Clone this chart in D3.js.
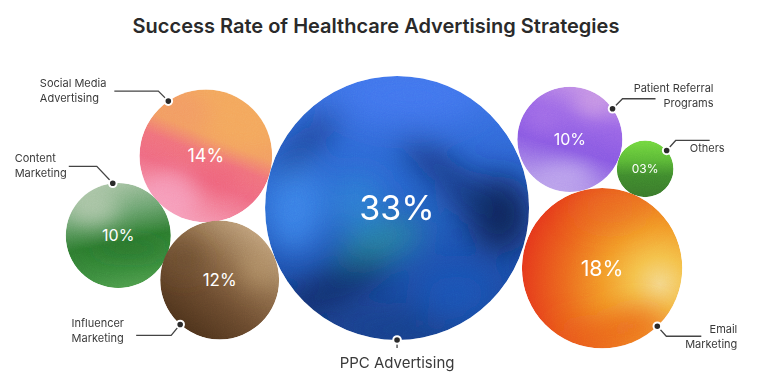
<!DOCTYPE html>
<html>
<head>
<meta charset="utf-8">
<script src="https://cdn.jsdelivr.net/npm/d3@7"></script>
<style>
  html, body { margin: 0; padding: 0; background: #fff; }
  svg { display: block; font-family: Inter, "Noto Sans", sans-serif; }
</style>
</head>
<body>
<div id="vis"></div>
<script>
const width = 768,
  height = 383;

// data
const categories = [
  "Social Media Advertising",
  "Content Marketing",
  "Influencer Marketing",
  "PPC Advertising",
  "Patient Referral Programs",
  "Others",
  "Email Marketing",
];
const values = [14, 10, 12, 33, 10, 3, 18];
const valueLabels = ["14%", "10%", "12%", "33%", "10%", "03%", "18%"];
const labelLines = [
  ["Social Media", "Advertising"],
  ["Content", "Marketing"],
  ["Influencer", "Marketing"],
  ["PPC Advertising"],
  ["Patient Referral", "Programs"],
  ["Others"],
  ["Email", "Marketing"],
];

// layout: bubble anchors (fraction of the canvas) and leader lines
const layout = [
  { fx: 0.268, fy: 0.407, angle: 235.6, ex: -10, ey: -10, run: -44, side: "left", gap: 8, by: -4 },
  { fx: 0.154, fy: 0.615, angle: 264, ex: -16, ey: -17, run: -28, side: "left", gap: 2, by: -4 },
  { fx: 0.286, fy: 0.731, angle: 131.6, ex: -9, ey: 11, run: -35, side: "left", gap: 12, by: -8 },
  { fx: 0.517, fy: 0.543, angle: 90, ex: 0, ey: 8, run: 0, side: "below", gap: 0, by: 20 },
  { fx: 0.742, fy: 0.364, angle: -35.7, ex: 10, ey: -10, run: 33, side: "right", gap: 58, by: -7 },
  { fx: 0.84, fy: 0.441, angle: -40.6, ex: 9, ey: -10, run: 34, side: "right", gap: 15, by: 12 },
  { fx: 0.784, fy: 0.7, angle: 46.5, ex: 9, ey: 10, run: 35, side: "right", gap: 36, by: -3 },
];

// fills: base gradient + soft blobs (x, y, rx, ry in radius units)
const fills = [
  {
    type: "linear", x1: 0.7, y1: 0, x2: 0.3, y2: 1, blur: 0.14,
    stops: [[0, "#f3a95c"], [0.36, "#f29d62"], [0.5, "#f0717c"], [0.66, "#ef6a82"], [1, "#f6a0ba"]],
    blobs: [
      { x: 0.45, y: -0.5, rx: 0.65, ry: 0.38, rot: 20, c: "#f3a85d", o: 0.95 },
      { x: -0.35, y: -0.75, rx: 0.5, ry: 0.2, rot: 25, c: "#f29a64", o: 0.8 },
      { x: -0.55, y: 0.6, rx: 0.45, ry: 0.35, rot: 0, c: "#f7a3c2", o: 0.7 },
      { x: 0.1, y: 0.35, rx: 0.4, ry: 0.2, rot: 0, c: "#ee5f78", o: 0.6 },
    ],
  },
  {
    type: "linear", x1: 0.3, y1: 0, x2: 0.5, y2: 1, blur: 0.18,
    stops: [[0, "#adc6a9"], [0.3, "#6ea572"], [0.58, "#2d7b2f"], [0.85, "#3c8d3e"], [1, "#4c9b4a"]],
    blobs: [
      { x: -0.5, y: -0.55, rx: 0.5, ry: 0.35, rot: 0, c: "#b3c9ae", o: 0.8 },
      { x: 0.2, y: 0.25, rx: 0.7, ry: 0.15, rot: 0, c: "#23702a", o: 0.7 },
    ],
  },
  {
    type: "linear", x1: 0.85, y1: 0.1, x2: 0.2, y2: 0.95, blur: 0.18,
    stops: [[0, "#c3a47e"], [0.35, "#8d6b49"], [0.65, "#6a4a2e"], [1, "#4a3019"]],
    blobs: [
      { x: -0.6, y: -0.35, rx: 0.35, ry: 0.3, rot: 0, c: "#6a4b30", o: 0.7 },
      { x: 0.65, y: -0.2, rx: 0.3, ry: 0.35, rot: 0, c: "#b8956b", o: 0.6 },
    ],
  },
  {
    type: "linear", x1: 0.5, y1: 0, x2: 0.5, y2: 1, blur: 0.12,
    stops: [[0, "#3e74e8"], [0.4, "#2a64d0"], [0.7, "#1d4fae"], [1, "#1a428f"]],
    blobs: [
      { x: 0.1, y: -0.85, rx: 0.55, ry: 0.2, rot: 0, c: "#4277ef", o: 0.9 },
      { x: -0.78, y: 0.0, rx: 0.22, ry: 0.35, rot: 0, c: "#3f87ec", o: 0.9 },
      { x: -0.7, y: -0.48, rx: 0.36, ry: 0.09, rot: -45, c: "#12337a", o: 0.85 },
      { x: 0.32, y: -0.3, rx: 0.34, ry: 0.1, rot: 35, c: "#132f6e", o: 0.9 },
      { x: 0.78, y: 0.05, rx: 0.25, ry: 0.3, rot: 0, c: "#0c2352", o: 0.95 },
      { x: 0.55, y: -0.05, rx: 0.2, ry: 0.1, rot: 30, c: "#15316e", o: 0.9 },
      { x: -0.12, y: 0.25, rx: 0.34, ry: 0.14, rot: -20, c: "#2b929c", o: 0.8 },
      { x: -0.3, y: -0.05, rx: 0.2, ry: 0.2, rot: 0, c: "#2f8ad8", o: 0.8 },
      { x: -0.5, y: 0.62, rx: 0.5, ry: 0.14, rot: -28, c: "#0e2b66", o: 0.95 },
      { x: 0.45, y: 0.65, rx: 0.3, ry: 0.22, rot: 0, c: "#1c56ba", o: 0.8 },
      { x: 0.0, y: 0.92, rx: 0.45, ry: 0.12, rot: 0, c: "#183f8a", o: 0.8 },
    ],
  },
  {
    type: "linear", x1: 0.7, y1: 0, x2: 0.4, y2: 1, blur: 0.18,
    stops: [[0, "#c391e6"], [0.3, "#9a66e6"], [0.6, "#8858e2"], [1, "#b89fe9"]],
    blobs: [
      { x: 0.45, y: -0.7, rx: 0.35, ry: 0.25, rot: 0, c: "#cf9fe4", o: 0.8 },
      { x: -0.5, y: -0.4, rx: 0.35, ry: 0.3, rot: 0, c: "#a873e8", o: 0.6 },
      { x: -0.1, y: 0.7, rx: 0.55, ry: 0.25, rot: 0, c: "#c0a8ee", o: 0.85 },
    ],
  },
  {
    type: "linear", x1: 0.5, y1: 0, x2: 0.5, y2: 1, blur: 0.18,
    stops: [[0, "#74d93f"], [0.35, "#5bb836"], [0.62, "#3f8a2d"], [1, "#3a782b"]],
    blobs: [],
  },
  {
    type: "radial", cx: 0.86, cy: 0.6, r: 0.95, blur: 0.18,
    stops: [[0, "#f4d88a"], [0.18, "#f4c14a"], [0.38, "#f29a28"], [0.62, "#ec6a1e"], [1, "#e3281a"]],
    blobs: [
      { x: 0.45, y: 0.7, rx: 0.4, ry: 0.2, rot: 0, c: "#ea5a1c", o: 0.8 },
      { x: -0.1, y: 0.85, rx: 0.5, ry: 0.15, rot: 0, c: "#e8561b", o: 0.8 },
      { x: 0.1, y: -0.75, rx: 0.45, ry: 0.2, rot: 0, c: "#ea6c2a", o: 0.6 },
    ],
  },
];

const data = categories.map((c, i) => ({
  name: c,
  value: values[i],
  text: valueLabels[i],
  lines: labelLines[i],
  ...layout[i],
  fill: fills[i],
  i,
}));

// scales
const x = d3.scaleLinear().domain([0, 1]).range([0, width]);
const y = d3.scaleLinear().domain([0, 1]).range([0, height]);
const r = d3.scaleLinear().domain([0, 33]).range([18, 132]);
const fontSize = d3.scaleLinear().domain([3, 10, 14, 33]).range([12, 16, 18, 34]);

const svg = d3
  .select("#vis")
  .append("svg")
  .attr("width", width)
  .attr("height", height)
  .attr("viewBox", `0 0 ${width} ${height}`);

const defs = svg.append("defs");

// grain
const grain = defs.append("filter").attr("id", "grain").attr("x", 0).attr("y", 0).attr("width", 1).attr("height", 1);
grain.append("feTurbulence").attr("type", "fractalNoise").attr("baseFrequency", 0.9).attr("numOctaves", 2).attr("seed", 3);
grain.append("feColorMatrix").attr("type", "saturate").attr("values", 0);

data.forEach((d) => {
  const f = d.fill;
  let g;
  if (f.type === "linear") {
    g = defs.append("linearGradient").attr("id", "grad" + d.i)
      .attr("x1", f.x1).attr("y1", f.y1).attr("x2", f.x2).attr("y2", f.y2);
  } else {
    g = defs.append("radialGradient").attr("id", "grad" + d.i)
      .attr("cx", f.cx).attr("cy", f.cy).attr("r", f.r);
  }
  g.selectAll("stop").data(f.stops).join("stop")
    .attr("offset", (s) => s[0]).attr("stop-color", (s) => s[1]);

  defs.append("clipPath").attr("id", "clip" + d.i)
    .append("circle").attr("cx", x(d.fx)).attr("cy", y(d.fy)).attr("r", r(d.value));

  defs.append("filter").attr("id", "blur" + d.i)
    .attr("x", "-50%").attr("y", "-50%").attr("width", "200%").attr("height", "200%")
    .append("feGaussianBlur").attr("stdDeviation", r(d.value) * f.blur);
});

// title
svg.append("text")
  .attr("x", 376)
  .attr("y", 33)
  .attr("text-anchor", "middle")
  .attr("font-size", 20)
  .attr("font-weight", 600)
  .attr("fill", "#2a2a2a")
  .text("Success Rate of Healthcare Advertising Strategies");

const bubbles = svg.selectAll("g.bubble").data(data).join("g").attr("class", "bubble");

bubbles.each(function (d) {
  const g = d3.select(this);
  const cx = x(d.fx), cy = y(d.fy), rr = r(d.value);
  const inner = g.append("g").attr("clip-path", `url(#clip${d.i})`);
  inner.append("circle").attr("cx", cx).attr("cy", cy).attr("r", rr).attr("fill", `url(#grad${d.i})`);
  inner.append("g").attr("filter", `url(#blur${d.i})`)
    .selectAll("ellipse").data(d.fill.blobs).join("ellipse")
    .attr("cx", (b) => cx + b.x * rr)
    .attr("cy", (b) => cy + b.y * rr)
    .attr("rx", (b) => b.rx * rr)
    .attr("ry", (b) => b.ry * rr)
    .attr("transform", (b) => `rotate(${b.rot} ${cx + b.x * rr} ${cy + b.y * rr})`)
    .attr("fill", (b) => b.c)
    .attr("opacity", (b) => b.o);
  inner.append("rect")
    .attr("x", cx - rr).attr("y", cy - rr).attr("width", rr * 2).attr("height", rr * 2)
    .attr("filter", "url(#grain)")
    .attr("opacity", 0.15)
    .style("mix-blend-mode", "overlay");

  g.append("text")
    .attr("x", cx)
    .attr("y", cy)
    .attr("dy", "0.36em")
    .attr("text-anchor", "middle")
    .attr("font-size", fontSize(d.value))
    .attr("font-weight", 400)
    .attr("fill", "#fff")
    .text(d.text);
});

// leader lines and labels
const labels = svg.selectAll("g.label").data(data).join("g").attr("class", "label");

labels.each(function (d) {
  const g = d3.select(this);
  const cx = x(d.fx), cy = y(d.fy), rr = r(d.value);
  const a = (d.angle * Math.PI) / 180;
  const px = cx + rr * Math.cos(a), py = cy + rr * Math.sin(a);
  const ex = px + d.ex, ey = py + d.ey;
  const lx = ex + d.run;

  const p = d3.path();
  p.moveTo(px, py);
  p.lineTo(ex, ey);
  p.lineTo(lx, ey);
  g.append("path").attr("d", p).attr("fill", "none").attr("stroke", "#444").attr("stroke-width", 1.3);

  g.append("circle").attr("cx", px).attr("cy", py).attr("r", 3.8)
    .attr("fill", "#2a2a2a").attr("stroke", "#fff").attr("stroke-width", 2);

  const size = d.side === "below" ? 15 : 11;
  const t = g.append("text").attr("font-size", size).attr("fill", "#3a3a3a");
  t.selectAll("tspan").data(d.lines).join("tspan").text((s) => s);

  if (d.side === "below") {
    t.attr("text-anchor", "middle");
    t.selectAll("tspan").attr("x", lx).attr("y", ey + d.by);
  } else if (d.side === "right") {
    t.attr("text-anchor", "end");
    t.selectAll("tspan").attr("x", lx + d.gap).attr("y", (s, k) => ey + d.by + k * 15);
  } else {
    let w = 0;
    t.selectAll("tspan").each(function () { w = Math.max(w, this.getComputedTextLength()); });
    t.attr("text-anchor", "start");
    t.selectAll("tspan").attr("x", lx - d.gap - w).attr("y", (s, k) => ey + d.by + k * 15);
  }
});
</script>
</body>
</html>
